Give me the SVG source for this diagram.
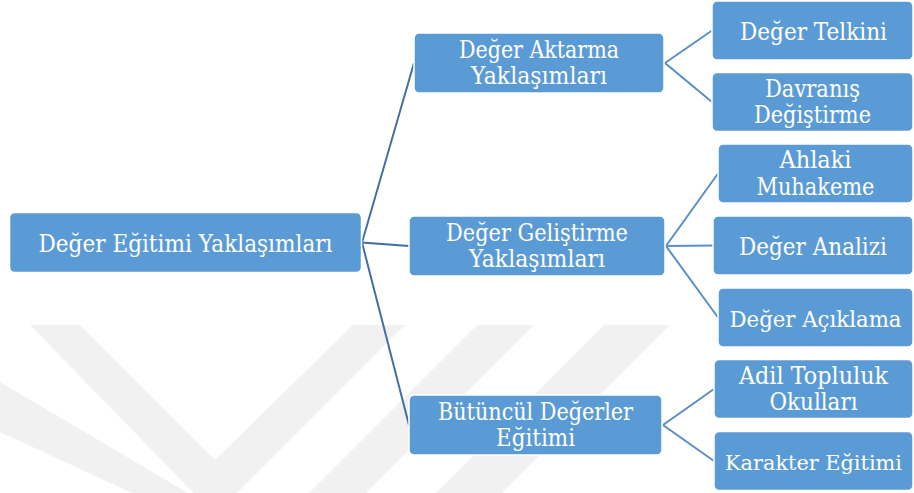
<svg xmlns="http://www.w3.org/2000/svg" width="914" height="493" viewBox="0 0 914 493">
  <style>
    .box { fill: #5B9BD5; stroke: #ffffff; stroke-width: 1.5; }
    .lbl { fill: #ffffff; font-family: "DejaVu Serif", serif; font-size: 24px; text-anchor: middle; }
    .sm { font-size: 22.5px; }
    .xs { font-size: 21px; }
    .c1 { stroke: #41719C; stroke-width: 2; fill: none; }
    .c2 { stroke: #5A8FC8; stroke-width: 2; fill: none; }
    .wm { fill: #f1f1f1; }
  </style>
  <rect width="914" height="493" fill="#ffffff"/>
  <g id="watermark">
    <polygon class="wm" points="30,325 80,325 215,460 353,325 405,325 215,515"/>
    <polygon class="wm" points="0,382 0,432 132,493 188,493"/>
    <polygon class="wm" points="477,325 534,325 366,493 309,493"/>
    <polygon class="wm" points="604,325 670,325 502,493 436,493"/>
  </g>
  <g id="connectors">
    <polyline class="c1" points="414,63 362,242.5 409,246"/>
    <polyline class="c1" points="362,242.5 409,425"/>
    <polyline class="c2" points="712,30.5 665,63 712,102"/>
    <polyline class="c2" points="718,173.5 666,246 718,317.5"/>
    <line class="c2" x1="666" y1="246" x2="713" y2="245.5"/>
    <polyline class="c2" points="714,389 663,425 714,461"/>
  </g>
  <g id="root">
    <rect class="box" x="9.5" y="212.5" width="352" height="60" rx="5"/>
    <text class="lbl" x="185.5" y="251.5" textLength="294" lengthAdjust="spacingAndGlyphs">Değer Eğitimi Yaklaşımları</text>
  </g>
  <g id="aktarma">
    <rect class="box" x="414" y="33" width="250" height="60" rx="5"/>
    <text class="lbl" x="539" y="57.5" textLength="160" lengthAdjust="spacingAndGlyphs">Değer Aktarma</text>
    <text class="lbl" x="539" y="84" textLength="136" lengthAdjust="spacingAndGlyphs">Yaklaşımları</text>
  </g>
  <g id="gelistirme">
    <rect class="box" x="409" y="216" width="256" height="60" rx="5"/>
    <text class="lbl" x="537" y="240.5" textLength="182" lengthAdjust="spacingAndGlyphs">Değer Geliştirme</text>
    <text class="lbl" x="537" y="267" textLength="136" lengthAdjust="spacingAndGlyphs">Yaklaşımları</text>
  </g>
  <g id="butuncul">
    <rect class="box" x="409" y="395" width="253" height="60" rx="5"/>
    <text class="lbl" x="535.5" y="419.5" textLength="195" lengthAdjust="spacingAndGlyphs">Bütüncül Değerler</text>
    <text class="lbl" x="535.5" y="446" textLength="79" lengthAdjust="spacingAndGlyphs">Eğitimi</text>
  </g>
  <g id="telkini">
    <rect class="box" x="712" y="1" width="201" height="59" rx="5"/>
    <text class="lbl" x="813.5" y="39.5" textLength="147" lengthAdjust="spacingAndGlyphs">Değer Telkini</text>
  </g>
  <g id="davranis">
    <rect class="box" x="712" y="72.5" width="201" height="59" rx="5"/>
    <text class="lbl" x="812.5" y="96.5" textLength="95" lengthAdjust="spacingAndGlyphs">Davranış</text>
    <text class="lbl" x="812.5" y="123" textLength="117" lengthAdjust="spacingAndGlyphs">Değiştirme</text>
  </g>
  <g id="ahlaki">
    <rect class="box" x="718" y="144" width="195" height="59" rx="5"/>
    <text class="lbl" x="815.5" y="167.5" textLength="72" lengthAdjust="spacingAndGlyphs">Ahlaki</text>
    <text class="lbl" x="815.5" y="194.5" textLength="118" lengthAdjust="spacingAndGlyphs">Muhakeme</text>
  </g>
  <g id="analizi">
    <rect class="box" x="713" y="216" width="200" height="59" rx="5"/>
    <text class="lbl" x="813" y="254.5" textLength="148" lengthAdjust="spacingAndGlyphs">Değer Analizi</text>
  </g>
  <g id="aciklama">
    <rect class="box" x="718" y="288" width="195" height="59" rx="5"/>
    <text class="lbl sm" x="815.5" y="326.5" textLength="172" lengthAdjust="spacingAndGlyphs">Değer Açıklama</text>
  </g>
  <g id="adil">
    <rect class="box" x="714" y="359.5" width="199" height="59" rx="5"/>
    <text class="lbl" x="813.5" y="383.5" textLength="149" lengthAdjust="spacingAndGlyphs">Adil Topluluk</text>
    <text class="lbl" x="813.5" y="410" textLength="88" lengthAdjust="spacingAndGlyphs">Okulları</text>
  </g>
  <g id="karakter">
    <rect class="box" x="714" y="431.5" width="199" height="59" rx="5"/>
    <text class="lbl xs" x="813.5" y="470" textLength="177" lengthAdjust="spacingAndGlyphs">Karakter Eğitimi</text>
  </g>
</svg>
